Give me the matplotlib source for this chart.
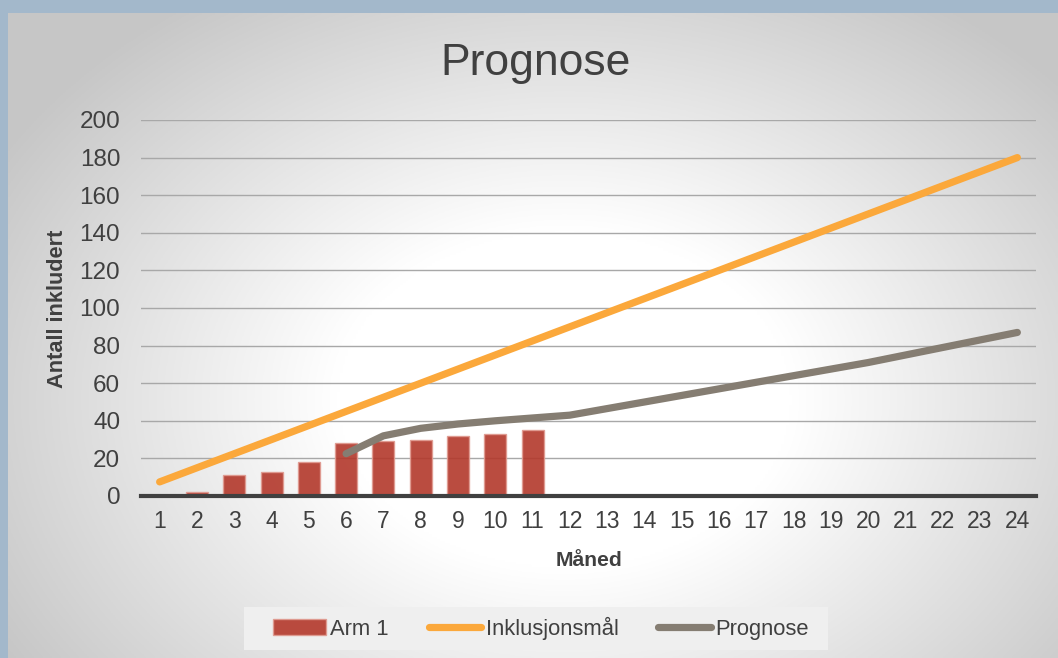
import numpy as np
import matplotlib
matplotlib.use("Agg")
import matplotlib.pyplot as plt
from matplotlib.patches import Rectangle

# data
months = list(range(1, 25))
arm1_months = list(range(1, 12))
arm1 = [0, 2, 11, 13, 18, 28, 29, 30, 32, 33, 35]
target = [7.5, 15, 22.5, 30, 37.5, 45, 52.5, 60, 67.5, 75, 82.5, 90,
          97.5, 105, 112.5, 120, 127.5, 135, 142.5, 150, 157.5, 165, 172.5, 180]
prog_months = list(range(6, 25))
prognose = [22.5, 32, 36, 38.3, 40, 41.5, 43, 46.5, 50, 53.5, 57, 60.5,
            64, 67.5, 71, 75, 79, 83, 87]
y_ticks = list(range(0, 201, 20))

W, H = 1058, 658
plt.rcParams["font.family"] = ["Liberation Sans", "DejaVu Sans"]
text_col = "#404040"

fig = plt.figure(figsize=(W / 100, H / 100), dpi=100)
fig.patch.set_facecolor("#a3b8cb")

# background: radial grey-white gradient inside the chart area
bg = fig.add_axes([8 / W, 0, 1 - 8 / W, 1 - 13 / H], zorder=0)
gx, gy = np.meshgrid(np.linspace(0, 1, 400), np.linspace(0, 1, 300))
d = np.sqrt(((gx - 0.53) / 0.62) ** 2 + ((gy - 0.60) / 0.75) ** 2)
t = np.clip((d - 0.35) / 0.65, 0, 1)
shade = 1.0 - 0.22 * t
img = np.dstack([shade, shade, shade])
bg.imshow(img, extent=[0, 1, 0, 1], aspect="auto", origin="upper")
bg.set_axis_off()

ax = fig.add_axes([141 / W, 162 / H, 895 / W, 376 / H], zorder=1)
ax.patch.set_alpha(0)

bars = ax.bar(arm1_months, arm1, width=0.59, color="#b3382b", alpha=0.9,
              edgecolor="#e09a90", linewidth=1.0, zorder=2, label="Arm 1")
l1, = ax.plot(months, target, color="#fba83b", lw=5.2, solid_capstyle="round",
              zorder=3, label="Inklusjonsmål")
l2, = ax.plot(prog_months, prognose, color="#857d72", lw=5.2,
              solid_capstyle="round", solid_joinstyle="round", zorder=4,
              label="Prognose")

ax.set_xlim(0.5, 24.5)
ax.set_ylim(0, 200)
ax.set_yticks(y_ticks)
ax.set_xticks(months)
ax.grid(axis="y", color="#a8a8a8", lw=1.0, zorder=0)
ax.set_axisbelow(True)
for s in ("top", "right", "left"):
    ax.spines[s].set_visible(False)
ax.spines["bottom"].set_color("#404040")
ax.spines["bottom"].set_linewidth(3)
ax.spines["bottom"].set_zorder(5)
ax.tick_params(axis="both", length=0, colors=text_col)
ax.tick_params(axis="y", pad=15, labelsize=17.5)
ax.tick_params(axis="x", pad=10, labelsize=16.5)

fig.text(536 / W, 1 - 63 / H, "Prognose", ha="center", va="center",
         fontsize=32, color=text_col)
fig.text(58 / W, 1 - 309 / H, "Antall inkludert", ha="center", va="center",
         rotation=90, fontsize=15.7, fontweight="bold", color=text_col)
fig.text(589 / W, 1 - 561 / H, "Måned", ha="center", va="center",
         fontsize=15.2, fontweight="bold", color=text_col)

# legend panel
fig.patches.append(Rectangle((244 / W, 1 - 650 / H), 584 / W, 43 / H,
                             transform=fig.transFigure, facecolor="#efefef",
                             edgecolor="none", zorder=1))
leg = fig.legend(handles=[bars, l1, l2], loc="center",
                 bbox_to_anchor=(541 / W, 1 - 628 / H), ncol=3, frameon=False,
                 fontsize=15.8, handlelength=2.4, handletextpad=0.2,
                 columnspacing=1.8, labelcolor=text_col)
leg.set_zorder(6)

fig.savefig("out.png", dpi=100, facecolor=fig.get_facecolor())
